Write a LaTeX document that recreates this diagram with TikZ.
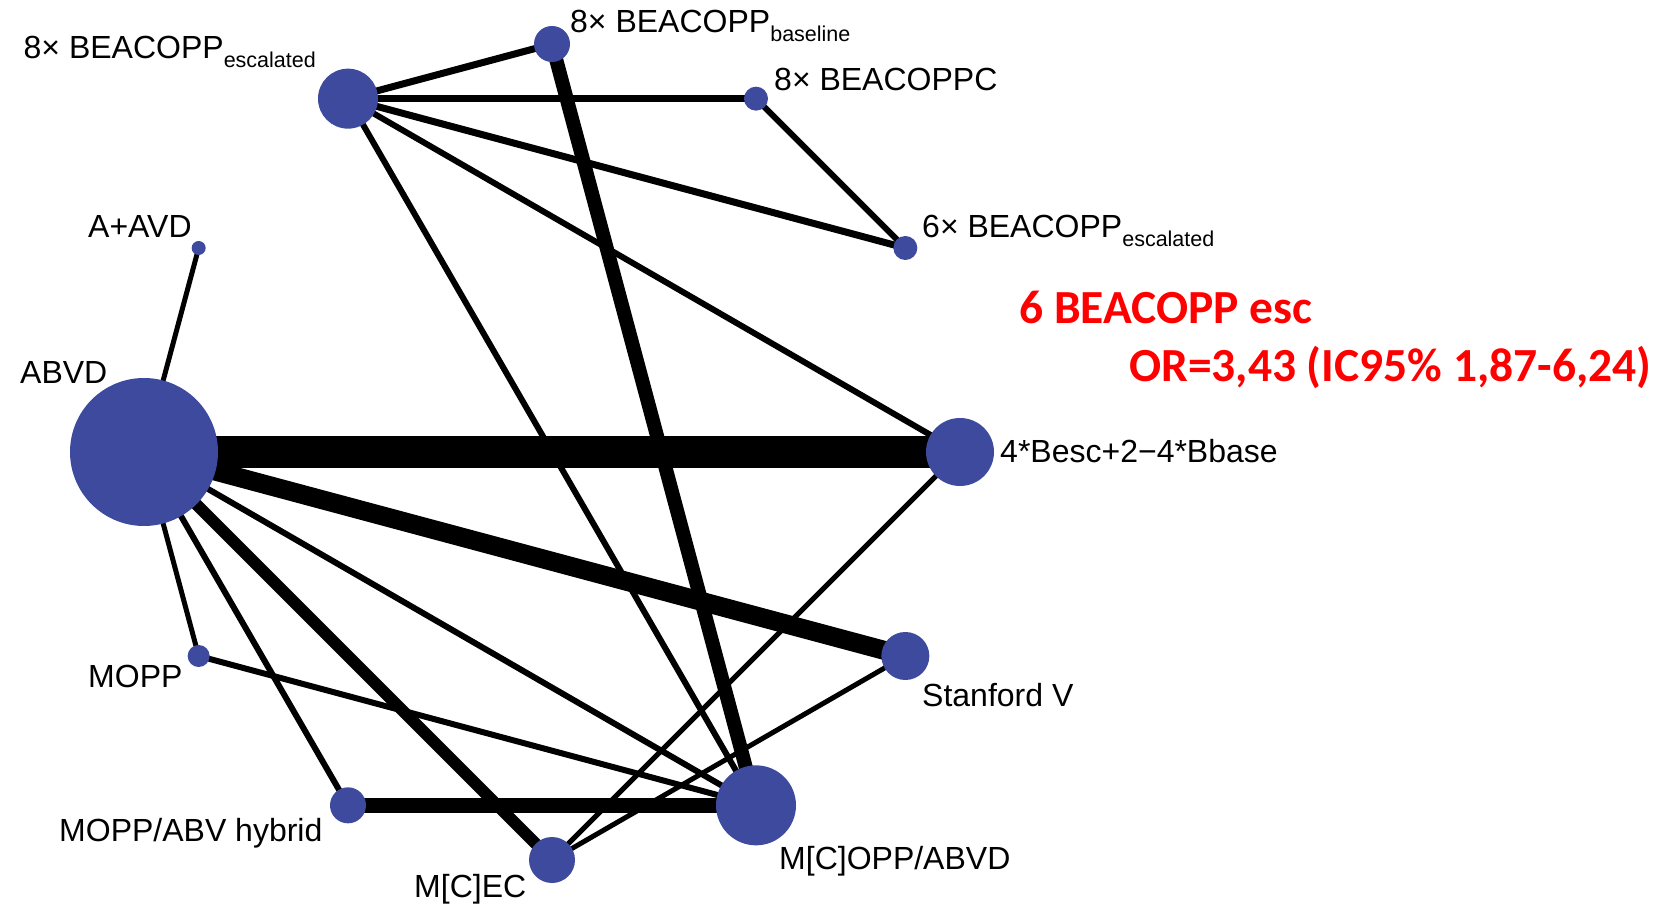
\documentclass[tikz,border=0pt]{standalone}
\usepackage{fontspec}
\setmainfont{Liberation Sans}
\newfontfamily\redfont{Carlito}
\usetikzlibrary{backgrounds}
\definecolor{nodeblue}{RGB}{62,74,158}
\definecolor{redtext}{RGB}{255,0,0}
\newcommand{\subtxt}[1]{\raisebox{-9pt}{\fontsize{21.5}{24}\selectfont #1}}
\begin{document}
\begin{tikzpicture}[x=1pt,y=1pt,
  netnode/.style={circle, fill=nodeblue, inner sep=0pt, minimum size=#1},
  lbl/.style={anchor=base west, inner sep=0pt, font=\fontsize{32}{36}\selectfont},
  redlbl/.style={anchor=base west, inner sep=0pt, text=redtext, font=\redfont\bfseries\fontsize{47.5}{52}\selectfont},
  link/.style={line width=#1, draw=black}]
\useasboundingbox (0,0) rectangle (1678,905);
\coordinate (ctr) at (552,453);
% network nodes on a circle
\node[netnode=36pt] (bbase)  at ([shift={(90:408)}]ctr) {};
\node[netnode=24pt] (bc)     at ([shift={(60:408)}]ctr) {};
\node[netnode=24pt] (besc6)  at ([shift={(30:408)}]ctr) {};
\node[netnode=68pt] (b4)     at ([shift={(0:408)}]ctr) {};
\node[netnode=48pt] (stanv)  at ([shift={(-30:408)}]ctr) {};
\node[netnode=80pt] (mcopp)  at ([shift={(-60:408)}]ctr) {};
\node[netnode=46pt] (mcec)   at ([shift={(-90:408)}]ctr) {};
\node[netnode=36pt] (mopphy) at ([shift={(-120:408)}]ctr) {};
\node[netnode=22pt] (mopp)   at ([shift={(-150:408)}]ctr) {};
\node[netnode=148pt] (abvd)  at ([shift={(180:408)}]ctr) {};
\node[netnode=14pt] (aavd)   at ([shift={(150:408)}]ctr) {};
\node[netnode=60pt] (besc8)  at ([shift={(120:408)}]ctr) {};
% edges
\begin{scope}[on background layer]
\fill[white] (0,0) rectangle (1678,905);
\draw[link=7pt]  (besc8.center) -- (bbase.center);
\draw[link=7pt]  (besc8.center) -- (bc.center);
\draw[link=7pt]  (besc8.center) -- (besc6.center);
\draw[link=6pt]  (besc8.center) -- (b4.center);
\draw[link=6pt]  (besc8.center) -- (mcopp.center);
\draw[link=14pt] (bbase.center) -- (mcopp.center);
\draw[link=6pt]  (bc.center) -- (besc6.center);
\draw[link=5pt]  (aavd.center) -- (abvd.center);
\draw[link=32pt] (abvd.center) -- (b4.center);
\draw[link=19pt] (abvd.center) -- (stanv.center);
\draw[link=5pt]  (abvd.center) -- (mopp.center);
\draw[link=6pt]  (abvd.center) -- (mopphy.center);
\draw[link=12pt] (abvd.center) -- (mcec.center);
\draw[link=6pt]  (abvd.center) -- (mcopp.center);
\draw[link=6pt]  (mopp.center) -- (mcopp.center);
\draw[link=15pt] (mopphy.center) -- (mcopp.center);
\draw[link=5pt]  (mcec.center) -- (b4.center);
\draw[link=5pt]  (mcec.center) -- (stanv.center);
\end{scope}
% labels
\node[lbl] (lbesc8) at (23.5,846) {8× BEACOPP\subtxt{escalated}};
\node[lbl] (lbbase) at (570,872) {8× BEACOPP\subtxt{baseline}};
\node[lbl] (lbc)    at (774,814) {8× BEACOPPC};
\node[lbl] (lbesc6) at (922,667) {6× BEACOPP\subtxt{escalated}};
\node[lbl] (laavd)  at (88,667) {A+AVD};
\node[lbl] (labvd)  at (20,521) {ABVD};
\node[lbl] (lb4)    at (1000,442) {4*Besc+2−4*Bbase};
\node[lbl] (lstanv) at (922,198) {Stanford V};
\node[lbl] (lmopp)  at (88,217) {MOPP};
\node[lbl] (lmopphy) at (59,64) {MOPP/ABV hybrid};
\node[lbl] (lmcec)  at (414,8) {M[C]EC};
\node[lbl] (lmcopp) at (779,36) {M[C]OPP/ABVD};
% red annotation
\node[redlbl] (red1) at (1019,581) {6 BEACOPP esc};
\node[redlbl] (red2) at (1129,523) {OR=3,43 (IC95\% 1,87-6,24)};
\end{tikzpicture}
\end{document}
